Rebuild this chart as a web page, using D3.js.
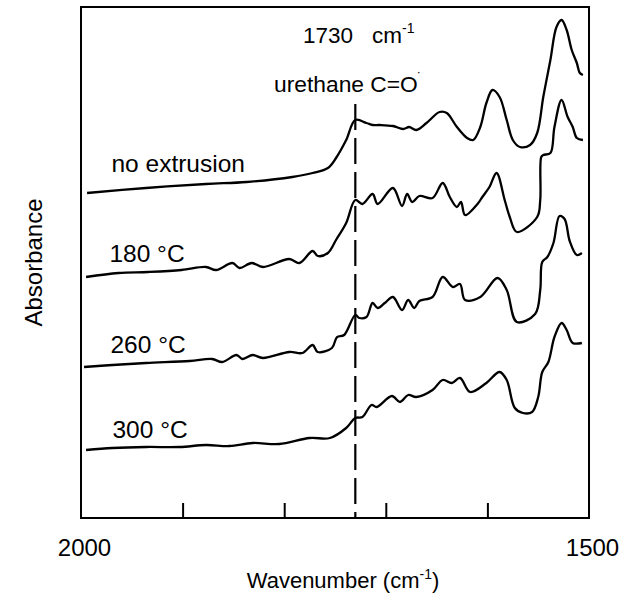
<!DOCTYPE html>
<html>
<head>
<meta charset="utf-8">
<script src="https://cdn.jsdelivr.net/npm/d3@7"></script>
<style>
  html, body { margin: 0; padding: 0; background: #fff; }
  svg { display: block; font-family: "Liberation Sans", Arial, sans-serif; }
</style>
</head>
<body>
<svg id="chart" width="631" height="595"></svg>
<script>
// ---- data ----
const seriesNames = ["no extrusion", "180 °C", "260 °C", "300 °C"];

const wnNoExt  = [1994,1936,1877,1837,1792,1772,1757,1749,1739,1730,1719,1713,1706,1693,1683,1677,1670,1660,1647,1640,1630,1620,1614,1607,1601,1595,1588,1581,1575,1568,1558,1551,1545,1538,1532,1527,1522,1517,1512,1509,1506];
const absNoExt = [3.25,3.30,3.34,3.36,3.41,3.45,3.50,3.60,3.78,3.98,3.95,3.93,3.93,3.92,3.89,3.91,3.88,3.95,4.06,4.05,3.91,3.80,3.78,3.91,4.15,4.28,4.21,3.98,3.78,3.71,3.73,3.85,4.21,4.58,4.91,4.98,4.88,4.68,4.55,4.45,4.43];

const wn180  = [1995,1963,1934,1901,1877,1867,1851,1844,1832,1821,1795,1785,1772,1767,1757,1749,1739,1730,1723,1713,1708,1693,1684,1679,1674,1667,1654,1644,1637,1630,1626,1622,1609,1605,1598,1591,1583,1578,1571,1551,1548,1547,1545,1538,1534,1527,1521,1516,1512,1506];
const abs180 = [2.41,2.45,2.46,2.48,2.51,2.48,2.55,2.50,2.55,2.51,2.59,2.55,2.67,2.62,2.65,2.78,2.95,3.18,3.14,3.24,3.14,3.30,3.12,3.24,3.16,3.22,3.20,3.35,3.21,3.11,3.16,3.03,3.15,3.21,3.31,3.45,3.18,3.01,2.86,3.01,3.18,3.61,3.63,3.65,3.91,4.18,4.01,3.91,3.80,3.78];

const wn260  = [1997,1969,1936,1893,1871,1861,1847,1841,1831,1821,1795,1782,1772,1767,1753,1748,1741,1730,1726,1719,1713,1708,1701,1693,1684,1678,1672,1667,1654,1644,1634,1627,1622,1607,1590,1581,1571,1553,1548,1546,1541,1535,1529,1524,1519,1512,1507];
const abs260 = [1.51,1.53,1.55,1.57,1.59,1.56,1.63,1.59,1.63,1.60,1.66,1.65,1.73,1.66,1.70,1.81,1.83,2.03,2.00,2.01,2.15,2.10,2.15,2.21,2.08,2.18,2.10,2.17,2.21,2.41,2.31,2.34,2.18,2.21,2.40,2.28,1.96,2.04,2.28,2.56,2.61,2.75,3.02,2.99,2.77,2.63,2.65];

const wn300  = [1995,1969,1936,1903,1877,1854,1831,1805,1775,1755,1739,1730,1723,1714,1709,1694,1686,1678,1670,1654,1644,1635,1627,1617,1601,1588,1581,1573,1565,1556,1550,1546,1540,1534,1527,1522,1516,1507];
const abs300 = [0.68,0.70,0.71,0.71,0.73,0.72,0.75,0.74,0.80,0.80,0.90,1.00,1.01,1.13,1.11,1.22,1.16,1.23,1.21,1.28,1.38,1.35,1.40,1.26,1.35,1.46,1.38,1.10,1.05,1.06,1.21,1.46,1.56,1.81,1.95,1.88,1.75,1.75];

const minorTicks = [1900, 1800, 1700, 1600];
const edgeTicks  = [2000, 1500];
const markerWn   = 1730;

// ---- layout ----
const svg = d3.select("#chart");
const plotL = 81, plotR = 589, plotT = 7, plotB = 518;

const x = d3.scaleLinear().domain([2000, 1500]).range([plotL, plotR]);
const y = d3.scaleLinear().domain([0, 5.11]).range([plotB, plotT]);

const series = [
  { name: seriesNames[0], wn: wnNoExt, ab: absNoExt, lx: 1970, ly: 3.46 },
  { name: seriesNames[1], wn: wn180,   ab: abs180,   lx: 1972, ly: 2.56 },
  { name: seriesNames[2], wn: wn260,   ab: abs260,   lx: 1971, ly: 1.65 },
  { name: seriesNames[3], wn: wn300,   ab: abs300,   lx: 1969, ly: 0.80 }
];

const line = d3.line()
  .x(d => x(d[0]))
  .y(d => y(d[1]))
  .curve(d3.curveCatmullRom.alpha(0.5));

// dashed marker line
svg.append("line")
  .attr("x1", x(markerWn)).attr("x2", x(markerWn))
  .attr("y1", 104).attr("y2", plotB)
  .attr("stroke", "#000").attr("stroke-width", 2.2)
  .attr("stroke-dasharray", "26,8");

// curves
svg.append("g").selectAll("path")
  .data(series)
  .join("path")
  .attr("d", s => line(s.wn.map((w, i) => [w, s.ab[i]])))
  .attr("fill", "none")
  .attr("stroke", "#000")
  .attr("stroke-width", 2.3)
  .attr("stroke-linejoin", "round");

// series labels
svg.append("g").selectAll("text")
  .data(series)
  .join("text")
  .attr("x", s => x(s.lx))
  .attr("y", s => y(s.ly))
  .attr("font-size", 24.5)
  .attr("fill", "#000")
  .text(s => s.name);

// bottom axis: minor ticks pointing inward, no labels
const axMinor = svg.append("g")
  .attr("transform", `translate(0,${plotB})`)
  .call(d3.axisBottom(x).tickValues(minorTicks).tickSize(-15).tickFormat(""));
axMinor.select(".domain").remove();
axMinor.selectAll(".tick line").attr("stroke", "#000").attr("stroke-width", 2);

// bottom axis: end labels
const axEdge = svg.append("g")
  .attr("transform", `translate(0,${plotB})`)
  .call(d3.axisBottom(x).tickValues(edgeTicks).tickSize(0).tickPadding(21).tickFormat(d3.format("d")));
axEdge.select(".domain").remove();
axEdge.selectAll("text")
  .attr("font-size", 24)
  .attr("dx", 3)
  .attr("font-family", "'Liberation Sans', Arial, sans-serif")
  .attr("fill", "#000");

// frame
svg.append("rect")
  .attr("x", plotL).attr("y", plotT)
  .attr("width", plotR - plotL).attr("height", plotB - plotT)
  .attr("fill", "none").attr("stroke", "#000").attr("stroke-width", 2);

// axis titles
const xt = svg.append("text")
  .attr("x", (plotL + plotR) / 2 + 8).attr("y", 588)
  .attr("text-anchor", "middle")
  .attr("font-size", 22)
  .attr("fill", "#000");
xt.append("tspan").text("Wavenumber (cm");
xt.append("tspan").attr("font-size", 14).attr("dy", -9).text("-1");
xt.append("tspan").attr("dy", 9).text(")");

svg.append("text")
  .attr("transform", `translate(42,${(plotT + plotB) / 2}) rotate(-90)`)
  .attr("text-anchor", "middle")
  .attr("font-size", 24)
  .attr("fill", "#000")
  .text("Absorbance");

// annotation
const a1 = svg.append("text")
  .attr("x", 303).attr("y", 43)
  .attr("font-size", 22.5)
  .attr("fill", "#000");
a1.append("tspan").text("1730");
a1.append("tspan").attr("x", 372).text("cm");
a1.append("tspan").attr("font-size", 14).attr("dy", -10).text("-1");

const a2 = svg.append("text")
  .attr("x", 274).attr("y", 92)
  .attr("font-size", 22.8)
  .attr("fill", "#000");
a2.append("tspan").text("urethane C=O");
a2.append("tspan").attr("font-size", 12).attr("dy", -16).attr("dx", -1).text("·");
</script>
</body>
</html>
